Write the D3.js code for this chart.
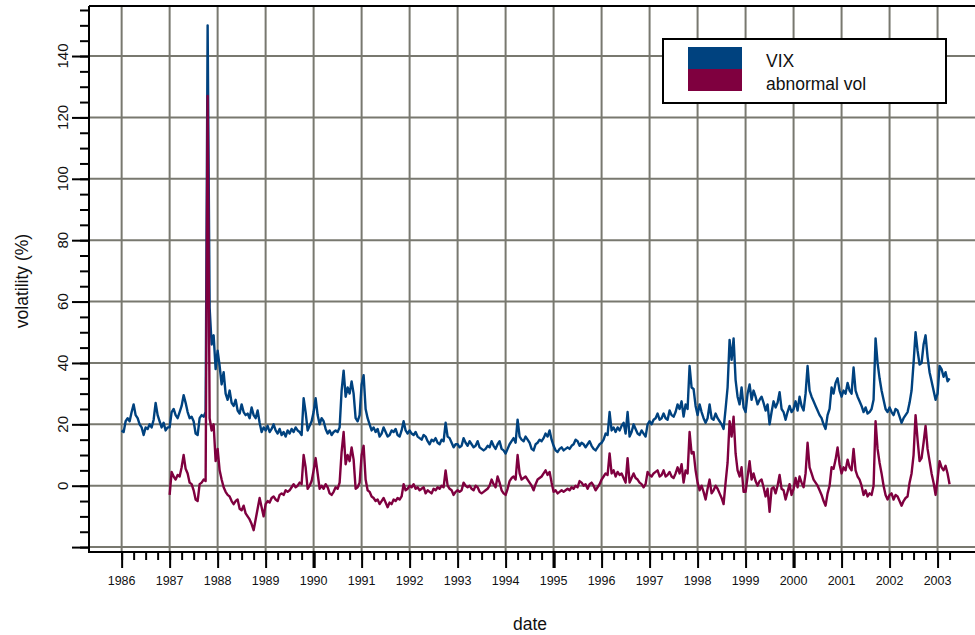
<!DOCTYPE html>
<html><head><meta charset="utf-8">
<script src="https://cdn.jsdelivr.net/npm/d3@7"></script>
<style>
body{margin:0;background:#fff}
svg{display:block}
text{font-family:"Liberation Sans",Arial,Helvetica,sans-serif;fill:#111}
</style>
</head><body>
<svg id="chart" width="975" height="635"></svg>
<script>
// ---------------- data ----------------
const seriesNames = ["VIX", "abnormal vol"];
const seriesColors = ["#00427f", "#7f003f"];
const vixStart = 1986;      // first observation (decimal year)
const abnStart = 1987;
const stepsPerYear = 24;    // semi-monthly observations

const vix = [
  // 1986
  18, 17.5, 21, 22, 21, 24, 26.5, 23, 22, 20, 19, 16.5, 19, 18.5, 20, 19, 21.5, 27, 23, 21, 19, 20.5, 18, 19,
  // 1987
  19, 24, 25, 23, 22, 24, 26, 29.5, 27, 24, 22, 22.5, 21, 17, 16.5, 22, 23, 22.5, 24, 150, 58, 46, 49, 38,
  // 1988
  44, 39, 33, 37, 30, 28, 31, 27, 26, 28, 24.5, 23.5, 26.5, 24, 23, 23.5, 22, 25.5, 23, 22, 24.5, 20.5, 17.5, 19,
  // 1989
  18, 19.5, 17.5, 18.5, 20, 18, 17, 18.5, 16.5, 17.5, 16, 18, 17, 18.5, 17.5, 19, 18, 17.5, 16.5, 28.5, 24, 18, 19.5, 21,
  // 1990
  24, 28.5, 23, 20, 22, 21, 18.5, 17, 18, 16.5, 17.5, 18, 17.5, 19, 31, 37.5, 29, 32, 30, 34, 30, 22, 21, 23,
  // 1991
  33, 36, 25, 22, 20, 18, 19, 17.5, 18.5, 16, 17, 19, 17.5, 16, 16.5, 18, 17.5, 18.5, 16.5, 16, 18, 21, 18, 17,
  // 1992
  18, 17, 16.5, 17.5, 16, 15.5, 15, 16.5, 16, 14.5, 13.5, 15, 14.5, 15.5, 14, 13.5, 15, 14.5, 20.5, 16, 15.5, 14, 12.5, 13.5,
  // 1993
  13.5, 12.5, 13, 15.5, 14, 13, 14.5, 13.5, 12.5, 13, 14.5, 12.5, 12, 11.5, 12, 13, 12.5, 14.5, 13, 12, 13.5, 14.5, 12, 11.5,
  // 1994
  10.5, 12, 13.5, 14.5, 15.5, 14, 21.5, 16, 15, 14.5, 16, 15, 14, 12, 11.5, 13.5, 14, 15, 14.5, 15.5, 17, 16, 18, 15,
  // 1995
  13, 11.5, 11, 12, 12.5, 11.5, 12, 12.5, 12, 13, 13.5, 15, 14.5, 13, 14, 13.5, 12.5, 13.5, 14.5, 13, 12, 11.5, 12.5, 13.5,
  // 1996
  14, 15, 17, 16.5, 24, 18, 19, 17.5, 19, 18, 19.5, 20.5, 17, 24, 16, 17.5, 20, 18.5, 17, 16.5, 18, 17, 16, 20,
  // 1997
  21, 20, 21.5, 22, 23.5, 21.5, 22, 23.5, 22, 21.5, 24.5, 23, 22.5, 24, 26.5, 25, 27.5, 22.5, 26.5, 25, 39, 32, 31.5, 26,
  // 1998
  23, 26.5, 24, 22, 20.5, 22, 26.5, 22, 21.5, 23.5, 22, 21, 20, 18.5, 25, 32, 47.5, 41, 48, 34.5, 29, 26.5, 32, 25.5,
  // 1999
  24, 30, 33, 28, 31, 29, 26.5, 28, 29, 27, 24.5, 26.5, 20, 24, 27.5, 25.5, 27, 30.5, 25, 24, 21.5, 24, 26, 24,
  // 2000
  25, 27.5, 24.5, 29, 26, 24.5, 30, 39, 31, 29, 27.5, 26, 24.5, 23, 22, 20, 18.5, 23, 25, 32, 30, 33.5, 35, 31,
  // 2001
  29, 31, 30, 33.5, 31, 30, 38.5, 31, 29, 27.5, 26, 24, 25.5, 23.5, 24, 25, 28, 48, 40, 35, 31, 28, 25, 24,
  // 2002
  25.5, 24, 23, 25, 24.5, 22.5, 20.5, 22, 23, 24, 27, 31, 40, 50, 44, 39.5, 40, 46, 49, 42, 37, 34, 31, 28,
  // 2003
  30, 39, 38, 35.5, 37, 34, 35
];

const abnormalVol = [
  // 1987
  -3, 4.5, 3, 2, 3.5, 3, 6, 10, 5.5, 4, 1, 0.5, -1.5, -4.5, -5, 0.5, 1, 2, 1.5, 127, 22, 18, 20, 8,
  // 1988
  12, 5, 2, -0.5, -2, -3, -3.5, -5, -6, -5, -4.5, -7.5, -8, -6.5, -9, -10, -11, -12.5, -14.5, -11, -7.5, -4, -7, -10,
  // 1989
  -6, -5, -5.5, -4, -3.5, -4.5, -5, -3, -2.5, -3, -1.5, -2, -1.5, -0.5, 0.5, -0.5, 0, 1, 0.5, 10, 6, -1, 0, 1.5,
  // 1990
  5, 9, 4, -1, 0, -1, 0.5, -0.5, -2.5, -3, -2, -0.5, -1, 1, 11, 17.5, 7, 10, 8, 12.5, 8.5, -1, -0.5, 1,
  // 1991
  10, 13, 2, -1.5, -2, -3.5, -4, -5, -4.5, -6, -5, -4, -5.5, -7, -5.5, -6, -4.5, -5, -4, -4.5, -3.5, 0.5, -1.5, -1,
  // 1992
  0, -0.5, 0.5, -1, -0.5, -1.5, -1, -0.5, -2.5, -1.5, -2, -2.5, -1, -1.5, -0.5, -1, 0, -0.5, 5, 0, -1, -1.5, -3, -2,
  // 1993
  -1.5, -2, -1.5, 1, 0, -0.5, 0, -1, -1.5, 0, -0.5, -2, -2.5, -2, -1.5, -1, 0, 2, 0.5, -0.5, 3, 1, -1.5, -2.5,
  // 1994
  -3, -1, 1.5, 2.5, 3, 2, 10, 4, 2, 2.5, 3, 2, 1, 0, -1.5, 0.5, 2, 2.5, 3, 4, 5, 3.5, 4.5, 1,
  // 1995
  -2, -1.5, -2.5, -2, -1.5, -2, -1.5, -1, -1.5, -0.5, -1, 0, -0.5, 1.5, 1, 0, 0.5, -1, 0.5, 1, 0, -1.5, -0.5, 0.5,
  // 1996
  2, 3, 4, 3.5, 10.5, 4, 5, 3, 4.5, 3.5, 4, 2.5, 1, 9, 1, 2.5, 4, 2.5, 2, 1, 0.5, -0.5, 0.5, 4.5,
  // 1997
  3.5, 3, 4, 4.5, 5, 3, 3.5, 5, 3, 3.5, 4.5, 3, 2.5, 4, 6, 4, 7, 1, 5, 4, 17.5, 10.5, 11, 5,
  // 1998
  1, -1.5, 0, -2, -4.5, -1, 2, -2.5, -1.5, 0, -1, -2.5, -4, -6, 1, 7.5, 21, 16, 22.5, 10.5, 5, 3, 6, -2,
  // 1999
  -2, 3, 8, 2, 4, 1.5, 0, 1.5, 2, -0.5, -3.5, -1, -8.5, -1, -0.5, -2.5, 0, 3.5, -1, -1.5, -4.5, -2, 0.5, -3,
  // 2000
  -1, 2.5, -0.5, 3, 1, -0.5, 4, 14, 6, 4, 2, 1, 0, -1.5, -3, -5, -6.5, -2.5, 0, 6, 5.5, 8.5, 12.5, 7,
  // 2001
  4, 6, 5, 8.5, 6, 5, 12, 5, 3, 2, 0, -3, -1.5, -3.5, -2.5, -3, 0, 21, 12, 7.5, 4, 0, -3, -4.5,
  // 2002
  -3, -2.5, -4.5, -3, -3.5, -5, -6.5, -5, -4, -3.5, 1, 4, 10, 23, 15, 8, 9, 14, 19.5, 12, 8, 4, 1, -3,
  // 2003
  2, 8, 6, 5, 6.5, 4, 0.5
];

const yMajorTicks = [-20, 0, 20, 40, 60, 80, 100, 120, 140];
const yLabelTicks = [0, 20, 40, 60, 80, 100, 120, 140];
const yMinorTicks = d3.range(-20, 156, 5);
const xYears = d3.range(1986, 2004);
const xBoldYears = [1990, 1995, 2000];
const xMinorTicks = d3.range(1986, 2003.26, 0.25);
const xTitle = "date";
const yTitle = "volatility (%)";

// ---------------- layout ----------------
const plotL = 89, plotR = 975, plotT = 6, plotB = 552;
const x = d3.scaleLinear().domain([1985.32, 2003.78]).range([plotL, plotR]);
const y = d3.scaleLinear().domain([-21.6, 156.3]).range([plotB, plotT]);

const svg = d3.select("#chart");
const gridColor = "#78786f";

// grid
svg.append("g").selectAll("line").data(xYears).join("line")
  .attr("x1", d => x(d)).attr("x2", d => x(d))
  .attr("y1", plotT).attr("y2", plotB)
  .attr("stroke", gridColor).attr("stroke-width", 2);
svg.append("g").selectAll("line").data(yMajorTicks).join("line")
  .attr("x1", plotL).attr("x2", plotR)
  .attr("y1", d => y(d)).attr("y2", d => y(d))
  .attr("stroke", gridColor).attr("stroke-width", 2);

// series
const seriesList = [
  {name: seriesNames[0], color: seriesColors[0], start: vixStart, values: vix},
  {name: seriesNames[1], color: seriesColors[1], start: abnStart, values: abnormalVol}
];
const lineFor = (start) => d3.line()
  .x((d, i) => x(start + i / stepsPerYear))
  .y(d => y(d));
svg.append("g").selectAll("path").data(seriesList).join("path")
  .attr("d", s => lineFor(s.start)(s.values))
  .attr("fill", "none")
  .attr("stroke", s => s.color)
  .attr("stroke-width", 2.4)
  .attr("stroke-linejoin", "round");

// frame
const frame = svg.append("g").attr("stroke", "#000").attr("stroke-width", 2);
frame.append("line").attr("x1", plotL).attr("x2", plotR).attr("y1", plotT).attr("y2", plotT);
frame.append("line").attr("x1", plotL).attr("x2", plotL).attr("y1", plotT).attr("y2", plotB + 1);
frame.append("line").attr("x1", plotL).attr("x2", plotR).attr("y1", plotB).attr("y2", plotB);

// y axis ticks
function styleAxis(g) {
  g.select(".domain").remove();
  g.selectAll(".tick line").attr("stroke", "#000").attr("stroke-width", 2);
  g.selectAll(".tick text").remove();
}
svg.append("g").attr("transform", `translate(${plotL},0)`)
  .call(d3.axisLeft(y).tickValues(yMinorTicks).tickSize(9).tickFormat(""))
  .call(styleAxis);
svg.append("g").attr("transform", `translate(${plotL},0)`)
  .call(d3.axisLeft(y).tickValues(yMajorTicks).tickSize(17).tickFormat(""))
  .call(styleAxis);
svg.append("g").selectAll("text").data(yLabelTicks).join("text")
  .attr("transform", d => `translate(68,${y(d)}) rotate(-90)`)
  .attr("text-anchor", "middle")
  .style("font-size", "15px")
  .text(d => d);

// x axis ticks
svg.append("g").attr("transform", `translate(0,${plotB})`)
  .call(d3.axisBottom(x).tickValues(xMinorTicks).tickSize(8).tickFormat(""))
  .call(styleAxis);
const xMajor = svg.append("g").attr("transform", `translate(0,${plotB})`)
  .call(d3.axisBottom(x).tickValues(xYears).tickSize(16).tickFormat(""))
  .call(styleAxis);
xMajor.selectAll(".tick line").attr("stroke-width", d => xBoldYears.includes(d) ? 3.2 : 2);
svg.append("g").selectAll("text").data(xYears).join("text")
  .attr("x", d => x(d)).attr("y", 585)
  .attr("text-anchor", "middle")
  .style("font-size", "12.5px")
  .text(d => d);

// axis titles
svg.append("text").attr("x", 530).attr("y", 630).attr("text-anchor", "middle")
  .style("font-size", "17.5px").text(xTitle);
svg.append("text").attr("transform", "translate(28,281) rotate(-90)").attr("text-anchor", "middle")
  .style("font-size", "17.5px").text(yTitle);

// legend
const lg = svg.append("g");
lg.append("rect").attr("x", 663).attr("y", 39).attr("width", 283).attr("height", 64)
  .attr("fill", "#fff").attr("stroke", "#000").attr("stroke-width", 2);
seriesList.forEach((s, i) => {
  lg.append("rect").attr("x", 688).attr("y", 47 + i * 22).attr("width", 54).attr("height", 22)
    .attr("fill", s.color);
  lg.append("text").attr("x", 766).attr("y", 67 + i * 22.5)
    .style("font-size", "17.5px").text(s.name);
});
</script>
</body></html>
